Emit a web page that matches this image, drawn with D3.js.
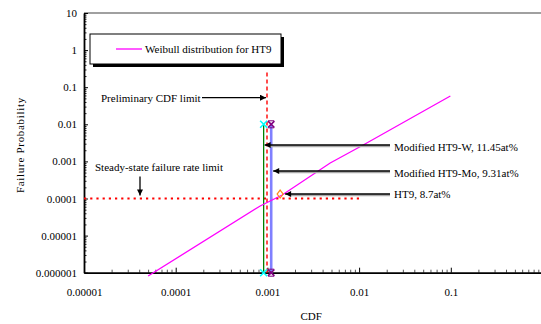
<!DOCTYPE html>
<html>
<head>
<meta charset="utf-8">
<script src="https://cdn.jsdelivr.net/npm/d3@7"></script>
<style>
  body { margin: 0; background: #fff; }
  svg text { font-family: "Liberation Serif", "Times New Roman", "DejaVu Serif", serif; font-size: 11px; fill: #000; }
</style>
</head>
<body>
<script>
// values
var weibullCdf  = [5.0e-5, 8.34e-4, 1.449e-3, 4.84e-3, 0.01109, 0.0989];
var weibullProb = [8.15e-7, 6.28e-5, 1.24e-4, 9.06e-4, 2.77e-3, 0.058];

var xTicks = [1e-5, 1e-4, 1e-3, 1e-2, 1e-1, 1];
var xTickLabels = ["0.00001", "0.0001", "0.001", "0.01", "0.1", ""];
var yTicks = [1e-6, 1e-5, 1e-4, 1e-3, 1e-2, 1e-1, 1, 10];
var yTickLabels = ["0.000001", "0.00001", "0.0001", "0.001", "0.01", "0.1", "1", "10"];

var cdfLimit = 0.00099;          // preliminary CDF limit (dashed)
var cdfLimitTop = 0.25;
var rateLimit = 1e-4;            // steady-state failure rate limit (dotted)
var rateLimitEnd = 0.01;
var htwCdf = 0.00091;            // Modified HT9-W
var htmoCdf = 0.0011;            // Modified HT9-Mo
var markerProb = [0.01, 1e-6];
var ht9Point = [0.001377, 1.32e-4];

var serif = '"Liberation Serif", "Times New Roman", "DejaVu Serif", serif';

var svg = d3.select('body').append('svg')
  .attr('width', 541)
  .attr('height', 324)
  .attr('font-family', serif);

var x = d3.scaleLog().domain([1e-5, 1]).range([84, 542.5]);
var y = d3.scaleLog().domain([1e-6, 10]).range([272.7, 13]);

var defs = svg.append('defs');
defs.append('marker')
  .attr('id', 'head')
  .attr('viewBox', '0 0 10 10')
  .attr('refX', 10).attr('refY', 5)
  .attr('markerWidth', 7).attr('markerHeight', 6)
  .attr('markerUnits', 'userSpaceOnUse')
  .attr('orient', 'auto')
  .append('path').attr('d', 'M0,0L10,5L0,10Z').attr('fill', '#000');

// minor ticks
var minorX = [], minorY = [];
xTicks.slice(0, -1).forEach(function(d){ for (var k = 2; k < 10; k++) minorX.push(d * k); });
yTicks.slice(0, -1).forEach(function(d){ for (var k = 2; k < 10; k++) minorY.push(d * k); });

svg.append('g')
  .attr('transform', 'translate(0,272.7)')
  .call(d3.axisBottom(x).tickValues(minorX).tickSizeInner(-3).tickSizeOuter(0).tickFormat(''))
  .call(function(g){ g.select('.domain').remove(); g.selectAll('line').attr('stroke', '#555'); });

svg.append('g')
  .attr('transform', 'translate(84,0)')
  .call(d3.axisLeft(y).tickValues(minorY).tickSizeInner(-2.5).tickSizeOuter(0).tickFormat(''))
  .call(function(g){ g.select('.domain').remove(); g.selectAll('line').attr('stroke', '#222'); });

// top frame
svg.append('line')
  .attr('x1', x(1e-5)).attr('x2', 541)
  .attr('y1', y(10)).attr('y2', y(10))
  .attr('stroke', '#808080').attr('stroke-width', 1.5);

// major axes
var xAxis = svg.append('g')
  .attr('transform', 'translate(0,272.7)')
  .call(d3.axisBottom(x).tickValues(xTicks).tickSizeInner(-5).tickSizeOuter(0).tickPadding(16)
    .tickFormat(function(d, i){ return xTickLabels[i]; }));
xAxis.attr('font-family', serif).attr('font-size', 11);
xAxis.select('.domain').attr('stroke-width', 1.8);

var yAxis = svg.append('g')
  .attr('transform', 'translate(84,0)')
  .call(d3.axisLeft(y).tickValues(yTicks).tickSizeInner(-4).tickSizeOuter(0).tickPadding(7)
    .tickFormat(function(d, i){ return yTickLabels[i]; }));
yAxis.attr('font-family', serif).attr('font-size', 11);
yAxis.select('.domain').attr('stroke-width', 1.8);

// axis titles
svg.append('text')
  .attr('x', x(0.003)).attr('y', 320)
  .attr('text-anchor', 'middle')
  .text('CDF');

svg.append('text')
  .attr('transform', 'translate(24,145) rotate(-90)')
  .attr('text-anchor', 'middle')
  .style('letter-spacing', '0.7px')
  .text('Failure Probability');

// limits
svg.append('line')
  .attr('x1', x(1e-5)).attr('x2', x(rateLimitEnd))
  .attr('y1', y(rateLimit)).attr('y2', y(rateLimit))
  .attr('stroke', 'red').attr('stroke-width', 2.2)
  .attr('stroke-dasharray', '2.2,4');

svg.append('line')
  .attr('x1', x(htwCdf)).attr('x2', x(htwCdf))
  .attr('y1', y(markerProb[0])).attr('y2', y(markerProb[1]))
  .attr('stroke', '#008000').attr('stroke-width', 1.3);

svg.append('line')
  .attr('x1', x(htmoCdf)).attr('x2', x(htmoCdf))
  .attr('y1', y(markerProb[0])).attr('y2', y(markerProb[1]))
  .attr('stroke', '#8080ff').attr('stroke-width', 2.6);

svg.append('line')
  .attr('x1', x(cdfLimit)).attr('x2', x(cdfLimit))
  .attr('y1', y(cdfLimitTop)).attr('y2', y(1e-6))
  .attr('stroke', 'red').attr('stroke-width', 1.4)
  .attr('stroke-dasharray', '4,3');

// weibull curve
var line = d3.line()
  .x(function(d, i){ return x(weibullCdf[i]); })
  .y(function(d){ return y(d); });

svg.append('path')
  .attr('d', line(weibullProb))
  .attr('fill', 'none')
  .attr('stroke', '#ff00ff')
  .attr('stroke-width', 1.3);

// markers
function cross(cx, cy, color, s){
  svg.append('path')
    .attr('d', 'M' + (cx - s) + ',' + (cy - s) + 'L' + (cx + s) + ',' + (cy + s) +
               'M' + (cx - s) + ',' + (cy + s) + 'L' + (cx + s) + ',' + (cy - s))
    .attr('stroke', color).attr('stroke-width', 1.6).attr('fill', 'none');
}
markerProb.forEach(function(p){
  cross(x(htwCdf), y(p), '#00ffff', 3.5);
  cross(x(htmoCdf), y(p), '#800080', 3.2);
  svg.append('path')
    .attr('d', 'M' + (x(htmoCdf) - 3) + ',' + (y(p) - 3.5) + 'h6M' + (x(htmoCdf) - 3) + ',' + (y(p) + 3.5) + 'h6')
    .attr('stroke', '#800080').attr('stroke-width', 1);
});

svg.append('path')
  .attr('transform', 'translate(' + x(ht9Point[0]) + ',' + y(ht9Point[1]) + ')')
  .attr('d', 'M0,-4L3,0L0,4L-3,0Z')
  .attr('fill', 'none').attr('stroke', '#ff8c1a').attr('stroke-width', 1.2);

// legend
svg.append('rect')
  .attr('x', 93).attr('y', 37).attr('width', 191).attr('height', 30)
  .attr('fill', '#000');
svg.append('rect')
  .attr('x', 90).attr('y', 34).attr('width', 191).attr('height', 30)
  .attr('fill', '#fff').attr('stroke', '#000').attr('stroke-width', 1);
svg.append('line')
  .attr('x1', 116).attr('x2', 142).attr('y1', 49).attr('y2', 49)
  .attr('stroke', '#ff00ff').attr('stroke-width', 1.3);
svg.append('text')
  .attr('x', 145).attr('y', 53)
  .text('Weibull distribution for HT9');

// annotations
function arrow(x1, y1, x2, y2, shadow){
  if (shadow) {
    svg.append('line')
      .attr('x1', x1).attr('x2', x2 + 4).attr('y1', y1 + 1.2).attr('y2', y2 + 1.2)
      .attr('stroke', '#aaa').attr('stroke-width', 2);
  }
  svg.append('line')
    .attr('x1', x1).attr('x2', x2).attr('y1', y1).attr('y2', y2)
    .attr('stroke', '#000').attr('stroke-width', 1.3)
    .attr('marker-end', 'url(#head)');
}

svg.append('text').attr('x', 101).attr('y', 101.5).text('Preliminary CDF limit');
arrow(202, 97.7, x(cdfLimit) - 1, 97.7, false);

svg.append('text').attr('x', 95).attr('y', 170.5).text('Steady-state failure rate limit');
arrow(140, 176.5, 140, y(rateLimit) - 3, false);

svg.append('text').attr('x', 394).attr('y', 150.5).text('Modified HT9-W, 11.45at%');
arrow(390, 145, x(htwCdf) + 1, 145, true);

svg.append('text').attr('x', 394).attr('y', 177).text('Modified HT9-Mo, 9.31at%');
arrow(390, 171, x(htmoCdf) + 2, 171, true);

svg.append('text').attr('x', 394).attr('y', 198).text('HT9, 8.7at%');
arrow(390, 194, x(ht9Point[0]) + 5, 194, true);
</script>
</body>
</html>
